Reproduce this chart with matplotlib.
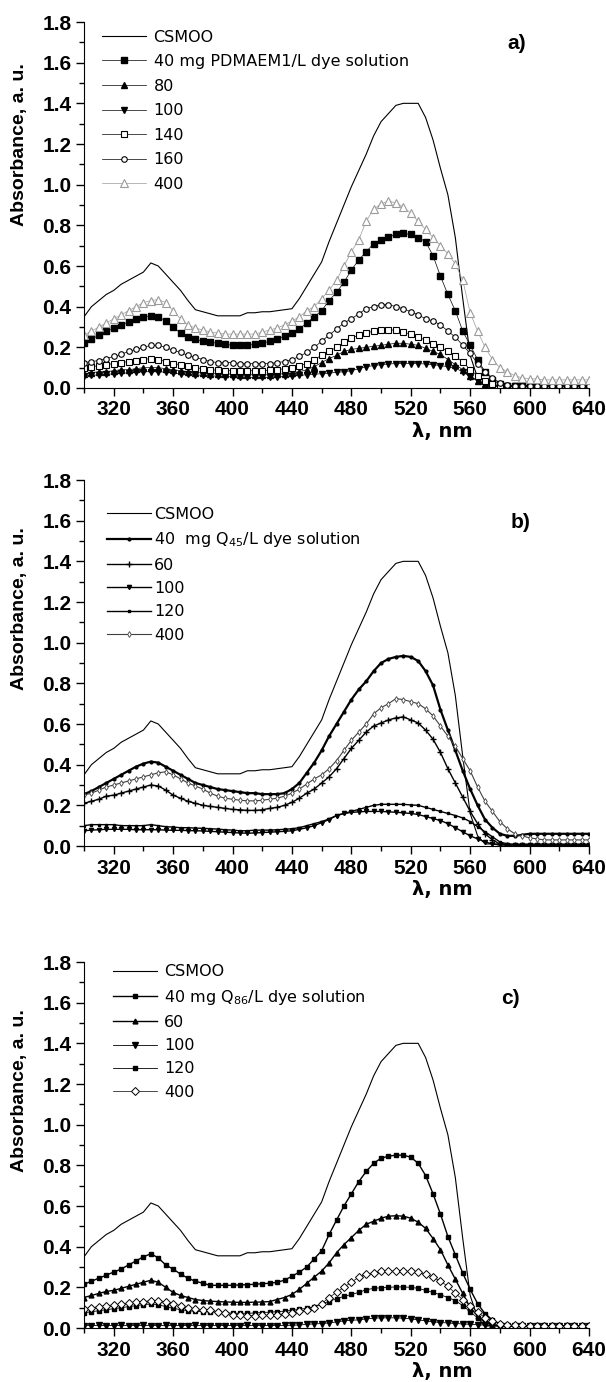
import matplotlib
matplotlib.use('Agg')
import matplotlib.pyplot as plt
from matplotlib.ticker import MultipleLocator, FormatStrFormatter

plt.rcParams['font.family'] = ['Liberation Sans', 'DejaVu Sans']
plt.rcParams['mathtext.default'] = 'regular'

# wavelength grid, nm (5 nm step, 300..640)
wavelength = list(range(300, 641, 5))

# reference dye solution, same in all three panels
csmoo = [0.35, 0.40, 0.43, 0.46, 0.48, 0.51, 0.53, 0.55, 0.57, 0.615,
         0.60, 0.56, 0.52, 0.48, 0.43, 0.385, 0.375, 0.365, 0.355, 0.355,
         0.355, 0.355, 0.37, 0.37, 0.375, 0.375, 0.38, 0.385, 0.39, 0.44,
         0.50, 0.56, 0.62, 0.72, 0.81, 0.90, 0.99, 1.07, 1.15, 1.24,
         1.31, 1.35, 1.39, 1.40, 1.40, 1.40, 1.33, 1.22, 1.08, 0.95,
         0.74, 0.44, 0.16, 0.05, 0.01, 0.01, 0.01, 0.01, 0.01, 0.01,
         0.01, 0.01, 0.01, 0.01, 0.01, 0.01, 0.01, 0.01, 0.01]

# ---- a) PDMAEM1 ----
a_labels = ['40 mg PDMAEM1/L dye solution', '80', '100', '140', '160', '400']
a_40 = [0.22, 0.24, 0.26, 0.28, 0.295, 0.31, 0.325, 0.34, 0.35, 0.355,
        0.35, 0.33, 0.30, 0.27, 0.25, 0.24, 0.23, 0.225, 0.22, 0.215,
        0.21, 0.21, 0.21, 0.215, 0.22, 0.23, 0.24, 0.255, 0.27, 0.29,
        0.32, 0.35, 0.38, 0.43, 0.47, 0.52, 0.58, 0.63, 0.67, 0.71,
        0.73, 0.745, 0.755, 0.76, 0.755, 0.74, 0.72, 0.65, 0.55, 0.46,
        0.38, 0.28, 0.21, 0.14, 0.08, 0.04, 0.02, 0.01, 0.01, 0.01,
        0.01, 0.01, 0.01, 0.01, 0.01, 0.01, 0.01, 0.01, 0.01]
a_80 = [0.07, 0.075, 0.08, 0.08, 0.085, 0.09, 0.09, 0.095, 0.10, 0.10,
        0.10, 0.095, 0.09, 0.085, 0.08, 0.075, 0.075, 0.07, 0.07, 0.07,
        0.068, 0.066, 0.065, 0.065, 0.065, 0.065, 0.068, 0.07, 0.075, 0.08,
        0.09, 0.105, 0.125, 0.145, 0.16, 0.18, 0.19, 0.195, 0.20, 0.205,
        0.21, 0.215, 0.22, 0.22, 0.215, 0.21, 0.195, 0.18, 0.165, 0.14,
        0.115, 0.09, 0.06, 0.035, 0.02, 0.01, 0.01, 0.01, 0.01, 0.01,
        0.01, 0.01, 0.01, 0.01, 0.01, 0.01, 0.01, 0.01, 0.01]
a_100 = [0.06, 0.062, 0.065, 0.067, 0.07, 0.072, 0.075, 0.077, 0.08, 0.08,
         0.08, 0.078, 0.075, 0.07, 0.068, 0.065, 0.062, 0.06, 0.058, 0.056,
         0.055, 0.054, 0.053, 0.052, 0.052, 0.053, 0.055, 0.057, 0.06, 0.062,
         0.065, 0.068, 0.07, 0.073, 0.077, 0.08, 0.085, 0.095, 0.105, 0.11,
         0.115, 0.118, 0.12, 0.12, 0.12, 0.12, 0.118, 0.115, 0.11, 0.105,
         0.097, 0.08, 0.055, 0.035, 0.015, 0.01, 0.01, 0.01, 0.01, 0.01,
         0.01, 0.01, 0.01, 0.01, 0.01, 0.01, 0.01, 0.01, 0.01]
a_140 = [0.10, 0.105, 0.11, 0.115, 0.12, 0.125, 0.13, 0.135, 0.14, 0.145,
         0.14, 0.13, 0.12, 0.115, 0.11, 0.10, 0.095, 0.09, 0.087, 0.085,
         0.085, 0.085, 0.085, 0.085, 0.085, 0.087, 0.09, 0.095, 0.10, 0.11,
         0.12, 0.14, 0.16, 0.18, 0.20, 0.225, 0.245, 0.26, 0.27, 0.28,
         0.285, 0.285, 0.285, 0.275, 0.265, 0.25, 0.235, 0.215, 0.20, 0.18,
         0.155, 0.13, 0.09, 0.06, 0.035, 0.02, 0.01, 0.01, 0.01, 0.01,
         0.01, 0.01, 0.01, 0.01, 0.01, 0.01, 0.01, 0.01, 0.01]
a_160 = [0.125, 0.13, 0.135, 0.145, 0.155, 0.165, 0.18, 0.19, 0.20, 0.21,
         0.21, 0.20, 0.185, 0.175, 0.16, 0.15, 0.14, 0.13, 0.125, 0.125,
         0.125, 0.12, 0.12, 0.12, 0.12, 0.12, 0.125, 0.13, 0.14, 0.155,
         0.175, 0.20, 0.23, 0.26, 0.29, 0.32, 0.34, 0.365, 0.39, 0.40,
         0.41, 0.41, 0.40, 0.39, 0.375, 0.36, 0.34, 0.33, 0.31, 0.28,
         0.25, 0.21, 0.17, 0.12, 0.08, 0.05, 0.025, 0.015, 0.01, 0.01,
         0.01, 0.01, 0.01, 0.01, 0.01, 0.01, 0.01, 0.01, 0.01]
a_400 = [0.26, 0.28, 0.30, 0.32, 0.34, 0.36, 0.38, 0.40, 0.42, 0.43,
         0.435, 0.42, 0.38, 0.34, 0.31, 0.295, 0.285, 0.275, 0.27, 0.265,
         0.265, 0.265, 0.265, 0.265, 0.275, 0.285, 0.295, 0.31, 0.33, 0.35,
         0.38, 0.40, 0.44, 0.48, 0.53, 0.60, 0.67, 0.73, 0.82, 0.88,
         0.905, 0.92, 0.91, 0.89, 0.86, 0.82, 0.78, 0.74, 0.70, 0.66,
         0.61, 0.53, 0.37, 0.28, 0.20, 0.14, 0.10, 0.08, 0.06, 0.05,
         0.045, 0.045, 0.04, 0.04, 0.04, 0.04, 0.04, 0.04, 0.04]

# ---- b) Q45 ----
b_labels = ['40  mg Q$_{45}$/L dye solution', '60', '100', '120', '400']
b_40 = [0.255, 0.27, 0.29, 0.31, 0.33, 0.35, 0.37, 0.39, 0.405, 0.415,
        0.41, 0.39, 0.37, 0.35, 0.33, 0.31, 0.30, 0.29, 0.28, 0.275,
        0.27, 0.265, 0.26, 0.26, 0.255, 0.255, 0.255, 0.26, 0.28, 0.31,
        0.36, 0.41, 0.47, 0.54, 0.60, 0.66, 0.72, 0.77, 0.81, 0.86,
        0.90, 0.92, 0.93, 0.935, 0.93, 0.91, 0.86, 0.79, 0.67, 0.57,
        0.47, 0.37, 0.28, 0.20, 0.13, 0.09, 0.06, 0.05, 0.05, 0.055,
        0.06, 0.06, 0.06, 0.06, 0.06, 0.06, 0.06, 0.06, 0.06]
b_60 = [0.21, 0.22, 0.23, 0.245, 0.25, 0.26, 0.27, 0.28, 0.29, 0.30,
        0.295, 0.275, 0.25, 0.235, 0.22, 0.21, 0.20, 0.195, 0.19, 0.185,
        0.18, 0.178, 0.175, 0.175, 0.178, 0.185, 0.19, 0.20, 0.215, 0.235,
        0.26, 0.28, 0.31, 0.34, 0.38, 0.43, 0.48, 0.52, 0.56, 0.59,
        0.605, 0.62, 0.63, 0.635, 0.62, 0.605, 0.57, 0.525, 0.46, 0.38,
        0.31, 0.24, 0.17, 0.11, 0.06, 0.03, 0.01, 0.005, 0.005, 0.005,
        0.005, 0.005, 0.005, 0.005, 0.005, 0.005, 0.005, 0.005, 0.005]
b_100 = [0.075, 0.078, 0.08, 0.082, 0.082, 0.082, 0.082, 0.08, 0.08, 0.08,
         0.08, 0.078, 0.077, 0.077, 0.076, 0.075, 0.074, 0.072, 0.07, 0.068,
         0.066, 0.064, 0.063, 0.064, 0.066, 0.068, 0.07, 0.072, 0.075, 0.082,
         0.09, 0.10, 0.115, 0.13, 0.15, 0.16, 0.165, 0.168, 0.17, 0.17,
         0.17, 0.168, 0.166, 0.163, 0.16, 0.155, 0.145, 0.135, 0.125, 0.11,
         0.09, 0.07, 0.05, 0.035, 0.02, 0.01, 0.005, 0.005, 0.005, 0.005,
         0.005, 0.005, 0.005, 0.005, 0.005, 0.005, 0.005, 0.005, 0.005]
b_120 = [0.10, 0.105, 0.105, 0.105, 0.105, 0.10, 0.10, 0.10, 0.10, 0.105,
         0.10, 0.095, 0.093, 0.09, 0.09, 0.088, 0.087, 0.085, 0.083, 0.08,
         0.078, 0.075, 0.075, 0.078, 0.078, 0.078, 0.08, 0.082, 0.085, 0.09,
         0.10, 0.11, 0.12, 0.133, 0.15, 0.16, 0.17, 0.18, 0.19, 0.20,
         0.205, 0.205, 0.205, 0.205, 0.202, 0.20, 0.19, 0.18, 0.17, 0.16,
         0.15, 0.138, 0.12, 0.095, 0.07, 0.045, 0.02, 0.01, 0.005, 0.005,
         0.005, 0.005, 0.005, 0.005, 0.005, 0.005, 0.005, 0.005, 0.005]
b_400 = [0.25, 0.26, 0.275, 0.29, 0.30, 0.31, 0.32, 0.33, 0.34, 0.35,
         0.36, 0.365, 0.35, 0.33, 0.31, 0.295, 0.28, 0.26, 0.245, 0.235,
         0.23, 0.225, 0.222, 0.222, 0.225, 0.23, 0.235, 0.245, 0.26, 0.28,
         0.305, 0.33, 0.35, 0.38, 0.42, 0.47, 0.52, 0.56, 0.60, 0.65,
         0.68, 0.70, 0.725, 0.72, 0.71, 0.70, 0.675, 0.64, 0.59, 0.54,
         0.49, 0.43, 0.37, 0.29, 0.22, 0.17, 0.12, 0.085, 0.06, 0.05,
         0.04, 0.035, 0.03, 0.03, 0.03, 0.03, 0.03, 0.03, 0.03]

# ---- c) Q86 ----
c_labels = ['40 mg Q$_{86}$/L dye solution', '60', '100', '120', '400']
c_40 = [0.215, 0.23, 0.245, 0.26, 0.275, 0.29, 0.31, 0.33, 0.35, 0.365,
        0.345, 0.31, 0.29, 0.265, 0.245, 0.23, 0.22, 0.21, 0.21, 0.21,
        0.21, 0.212, 0.213, 0.215, 0.218, 0.22, 0.225, 0.235, 0.255, 0.275,
        0.30, 0.34, 0.38, 0.46, 0.53, 0.60, 0.66, 0.72, 0.77, 0.81,
        0.835, 0.845, 0.85, 0.85, 0.84, 0.81, 0.75, 0.66, 0.56, 0.45,
        0.36, 0.27, 0.19, 0.12, 0.07, 0.04, 0.02, 0.012, 0.01, 0.01,
        0.01, 0.01, 0.01, 0.01, 0.01, 0.01, 0.01, 0.01, 0.01]
c_60 = [0.15, 0.16, 0.17, 0.18, 0.185, 0.195, 0.205, 0.215, 0.225, 0.235,
        0.225, 0.20, 0.175, 0.16, 0.15, 0.14, 0.135, 0.132, 0.13, 0.128,
        0.127, 0.126, 0.126, 0.127, 0.128, 0.13, 0.14, 0.15, 0.165, 0.19,
        0.22, 0.25, 0.28, 0.32, 0.37, 0.41, 0.445, 0.48, 0.51, 0.525,
        0.54, 0.55, 0.552, 0.55, 0.54, 0.52, 0.49, 0.44, 0.385, 0.31,
        0.24, 0.17, 0.10, 0.06, 0.03, 0.015, 0.01, 0.01, 0.01, 0.01,
        0.01, 0.01, 0.01, 0.01, 0.01, 0.01, 0.01, 0.01, 0.01]
c_100 = [0.012, 0.012, 0.013, 0.012, 0.012, 0.013, 0.012, 0.012, 0.013, 0.012,
         0.012, 0.013, 0.012, 0.012, 0.012, 0.013, 0.012, 0.012, 0.012, 0.012,
         0.012, 0.012, 0.013, 0.012, 0.012, 0.012, 0.012, 0.013, 0.013, 0.015,
         0.018, 0.02, 0.022, 0.025, 0.03, 0.035, 0.038, 0.04, 0.045, 0.048,
         0.05, 0.05, 0.05, 0.048, 0.045, 0.04, 0.035, 0.03, 0.027, 0.025,
         0.022, 0.02, 0.018, 0.016, 0.014, 0.012, 0.01, 0.01, 0.01, 0.01,
         0.01, 0.01, 0.01, 0.01, 0.01, 0.01, 0.01, 0.01, 0.01]
c_120 = [0.075, 0.08, 0.085, 0.09, 0.095, 0.10, 0.105, 0.11, 0.115, 0.118,
         0.115, 0.105, 0.097, 0.09, 0.085, 0.082, 0.08, 0.079, 0.077, 0.075,
         0.073, 0.072, 0.072, 0.074, 0.076, 0.078, 0.08, 0.083, 0.087, 0.092,
         0.097, 0.105, 0.12, 0.13, 0.145, 0.155, 0.165, 0.175, 0.188, 0.195,
         0.198, 0.20, 0.202, 0.202, 0.20, 0.195, 0.185, 0.175, 0.163, 0.15,
         0.135, 0.11, 0.08, 0.05, 0.028, 0.015, 0.01, 0.01, 0.01, 0.01,
         0.01, 0.01, 0.01, 0.01, 0.01, 0.01, 0.01, 0.01, 0.01]
c_400 = [0.095, 0.10, 0.105, 0.11, 0.113, 0.117, 0.122, 0.127, 0.13, 0.135,
         0.135, 0.128, 0.12, 0.11, 0.10, 0.093, 0.09, 0.087, 0.08, 0.072,
         0.066, 0.062, 0.061, 0.061, 0.062, 0.064, 0.066, 0.07, 0.075, 0.082,
         0.09, 0.10, 0.12, 0.15, 0.175, 0.20, 0.225, 0.25, 0.265, 0.272,
         0.278, 0.28, 0.28, 0.28, 0.278, 0.275, 0.265, 0.25, 0.23, 0.205,
         0.17, 0.14, 0.11, 0.078, 0.05, 0.035, 0.02, 0.015, 0.015, 0.015,
         0.012, 0.01, 0.01, 0.01, 0.01, 0.01, 0.01, 0.01, 0.01]

fig = plt.figure(figsize=(6.06, 13.82), dpi=100)
H = 1382.0
legend_font = {'family': 'DejaVu Sans', 'size': 11.5}


def make_axes(top_px):
    ax = fig.add_axes([84 / 606, 1 - (top_px + 366) / H, 505 / 606, 366 / H])
    ax.set_xlim(300, 640)
    ax.set_ylim(0, 1.8)
    ax.spines['top'].set_visible(False)
    ax.spines['right'].set_visible(False)
    ax.xaxis.set_major_locator(MultipleLocator(40))
    ax.xaxis.set_minor_locator(MultipleLocator(20))
    ax.yaxis.set_major_locator(MultipleLocator(0.2))
    ax.yaxis.set_minor_locator(MultipleLocator(0.1))
    ax.yaxis.set_major_formatter(FormatStrFormatter('%.1f'))
    ax.tick_params(which='major', direction='out', length=6, width=1, labelsize=15, pad=3)
    ax.tick_params(which='minor', direction='out', length=3.5, width=1)
    for t in ax.get_xticklabels() + ax.get_yticklabels():
        t.set_fontweight('bold')
    ax.set_ylabel('Absorbance, a. u.', fontsize=14, fontweight='bold')
    ax.set_xlabel('λ, nm', fontsize=14, fontweight='bold', family=['DejaVu Sans'])
    ax.xaxis.set_label_coords(0.71, -0.093)
    ax.plot(wavelength, csmoo, color='black', lw=0.8, label='CSMOO')
    return ax


# a)
ax = make_axes(22)
ax.yaxis.set_label_coords(-0.11, 0.665)
ax.plot(wavelength, a_40, color='black', lw=0.5, marker='s', ms=4, label=a_labels[0])
ax.plot(wavelength, a_80, color='black', lw=0.5, marker='^', ms=5, label=a_labels[1])
ax.plot(wavelength, a_100, color='black', lw=0.5, marker='v', ms=5, label=a_labels[2])
ax.plot(wavelength, a_140, color='black', lw=0.5, marker='s', ms=4, mfc='white', mew=0.8, label=a_labels[3])
ax.plot(wavelength, a_160, color='black', lw=0.5, marker='o', ms=4, mfc='white', mew=0.8, label=a_labels[4])
ax.plot(wavelength, a_400, color='#9a9a9a', lw=0.5, marker='^', ms=6, mfc='white', mew=0.8, label=a_labels[5])
ax.legend(loc='upper left', bbox_to_anchor=(0.035, 0.9795), frameon=False, prop=legend_font,
          handlelength=2.75, handletextpad=0.5, labelspacing=0.6, borderaxespad=0, borderpad=0)
ax.text(0.857, 0.94, 'a)', transform=ax.transAxes, fontsize=15, fontweight='bold', ha='center', va='center')

# b)
ax = make_axes(480)
ax.yaxis.set_label_coords(-0.11, 0.65)
ax.plot(wavelength, b_40, color='black', lw=1.6, marker='.', ms=4, label=b_labels[0])
ax.plot(wavelength, b_60, color='black', lw=1.0, marker='+', ms=4, label=b_labels[1])
ax.plot(wavelength, b_100, color='black', lw=1.0, marker='v', ms=3, label=b_labels[2])
ax.plot(wavelength, b_120, color='black', lw=1.0, marker='s', ms=2, label=b_labels[3])
ax.plot(wavelength, b_400, color='#404040', lw=0.8, marker='d', ms=3, mfc='white', mew=0.6, label=b_labels[4])
ax.legend(loc='upper left', bbox_to_anchor=(0.045, 0.926), frameon=False, prop=legend_font,
          handlelength=2.75, handletextpad=0.2, labelspacing=0.52, borderaxespad=0, borderpad=0)
ax.text(0.865, 0.885, 'b)', transform=ax.transAxes, fontsize=15, fontweight='bold', ha='center', va='center')

# c)
ax = make_axes(962)
ax.yaxis.set_label_coords(-0.11, 0.65)
ax.plot(wavelength, c_40, color='black', lw=1.0, marker='s', ms=3, label=c_labels[0])
ax.plot(wavelength, c_60, color='black', lw=1.0, marker='^', ms=3.5, label=c_labels[1])
ax.plot(wavelength, c_100, color='black', lw=0.6, marker='v', ms=4, label=c_labels[2])
ax.plot(wavelength, c_120, color='black', lw=0.6, marker='s', ms=2.5, label=c_labels[3])
ax.plot(wavelength, c_400, color='black', lw=0.5, marker='D', ms=4, mfc='white', mew=0.7, label=c_labels[4])
ax.legend(loc='upper left', bbox_to_anchor=(0.057, 0.994), frameon=False, prop=legend_font,
          handlelength=2.75, handletextpad=0.45, labelspacing=0.52, borderaxespad=0, borderpad=0)
ax.text(0.845, 0.9, 'c)', transform=ax.transAxes, fontsize=15, fontweight='bold', ha='center', va='center')

fig.savefig('out.png', dpi=100)
